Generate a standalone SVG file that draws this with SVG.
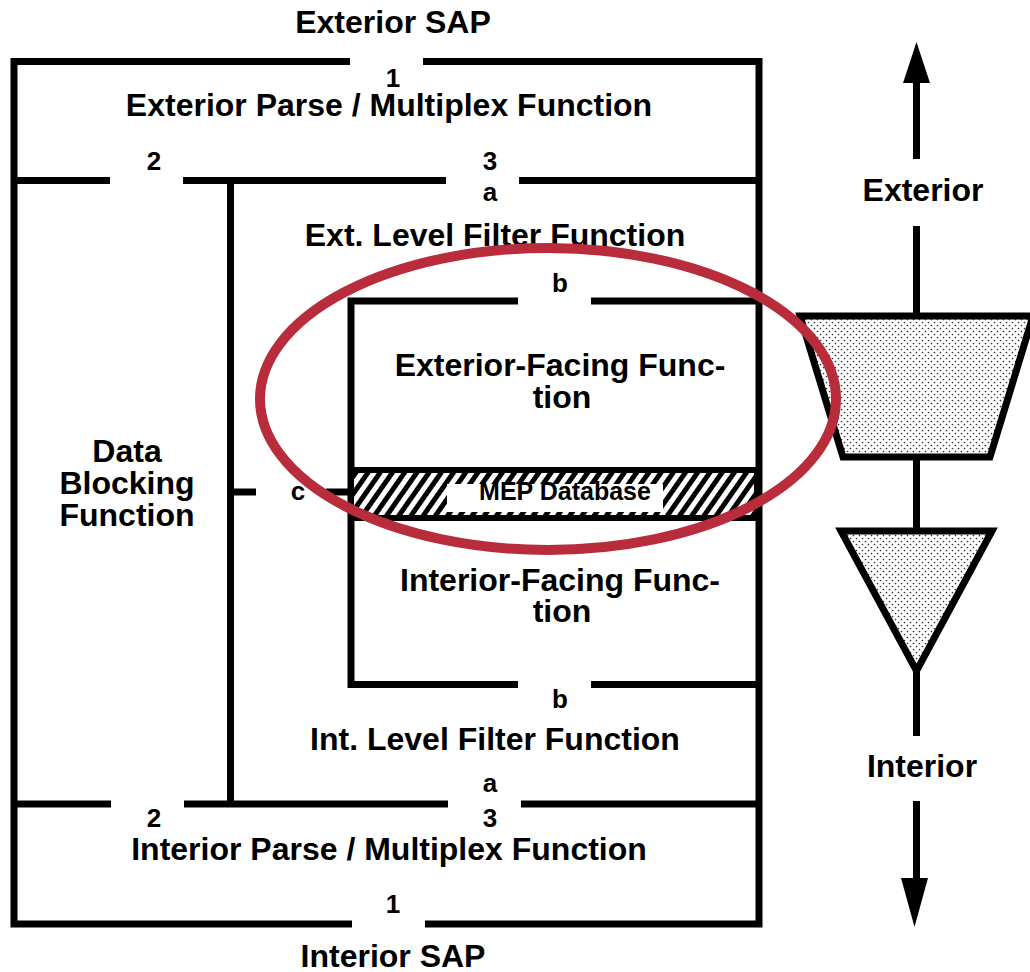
<svg xmlns="http://www.w3.org/2000/svg" width="1030" height="972" viewBox="0 0 1030 972">
<style>
.ln{fill:none;stroke:#000;stroke-width:7;stroke-linecap:butt;stroke-linejoin:miter}
.t{font-family:"Liberation Sans",Arial,sans-serif;font-weight:bold;font-size:32px;fill:#000;text-anchor:middle}
.s{font-family:"Liberation Sans",Arial,sans-serif;font-weight:bold;font-size:26px;fill:#000;text-anchor:middle}
.m{font-family:"Liberation Sans",Arial,sans-serif;font-weight:bold;font-size:25px;fill:#000;text-anchor:middle}
.dot{fill:url(#stip);stroke:#000;stroke-width:7;stroke-linejoin:miter}
</style>
<defs>
<pattern id="hatch" patternUnits="userSpaceOnUse" width="10" height="10" patternTransform="rotate(35)">
<rect width="10" height="10" fill="#fff"/>
<rect width="5" height="10" fill="#000"/>
</pattern>
<pattern id="stip" patternUnits="userSpaceOnUse" width="6" height="6">
<rect width="6" height="6" fill="#fff"/>
<circle cx="1.5" cy="1.5" r="0.85" fill="#333"/>
<circle cx="4.5" cy="4.5" r="0.85" fill="#333"/>
</pattern>
</defs>
<rect width="1030" height="972" fill="#fff"/>

<g id="outer-box">
<path class="ln" d="M350,61.5 H14 V924 H352"/>
<path class="ln" d="M423,61.5 H759 V924 H425"/>
<path class="ln" d="M11,180.5 H110 M183,180.5 H446 M519,180.5 H762"/>
<path class="ln" d="M11,804 H111 M184,804 H448 M521,804 H762"/>
</g>

<g id="exterior-parse">
<text class="t" x="393" y="33">Exterior SAP</text>
<text class="s" x="393" y="87">1</text>
<text class="t" x="389" y="116">Exterior Parse / Multiplex Function</text>
<text class="s" x="154" y="170">2</text>
<text class="s" x="490" y="170">3</text>
</g>

<g id="data-blocking">
<text class="t" x="127" y="462">Data</text>
<text class="t" x="127" y="494">Blocking</text>
<text class="t" x="127" y="526">Function</text>
</g>

<g id="connectors">
<path class="ln" d="M230.5,180.5 V804"/>
<path class="ln" d="M230.5,492 H256 M326,492 H351"/>
<line x1="916.5" y1="70" x2="916.5" y2="159" stroke="#000" stroke-width="7"/>
<line x1="916.5" y1="226" x2="916.5" y2="736" stroke="#000" stroke-width="7"/>
<line x1="916.5" y1="801" x2="916.5" y2="900" stroke="#000" stroke-width="7"/>
<polygon points="916.5,42 903,83 930,83" fill="#000"/>
<polygon points="914.5,927 901,878 928,878" fill="#000"/>
</g>

<g id="ext-level-filter">
<text class="s" x="490" y="201">a</text>
<text class="t" x="495" y="246">Ext. Level Filter Function</text>
<text class="s" x="560" y="292">b</text>
<text class="s" x="298" y="500">c</text>
</g>

<g id="inner-box">
<path class="ln" d="M518,301 H351 V684.5 H518"/>
<path class="ln" d="M591,301 H762 M591,684.5 H762"/>
</g>

<g id="exterior-facing">
<text class="t" x="560" y="376">Exterior-Facing Func-</text>
<text class="t" x="562" y="408">tion</text>
</g>

<g id="mep-database">
<rect x="351" y="470" width="406" height="48" fill="url(#hatch)" stroke="#000" stroke-width="6"/>
<rect x="447" y="484" width="216" height="28" fill="#fff"/>
<text class="m" x="565" y="500">MEP Database</text>
</g>

<g id="interior-facing">
<text class="t" x="560" y="591">Interior-Facing Func-</text>
<text class="t" x="562" y="622">tion</text>
</g>

<g id="int-level-filter">
<text class="s" x="560" y="708">b</text>
<text class="t" x="495" y="750">Int. Level Filter Function</text>
<text class="s" x="490" y="792">a</text>
</g>

<g id="interior-parse">
<text class="s" x="154" y="827">2</text>
<text class="s" x="490" y="827">3</text>
<text class="t" x="389" y="860">Interior Parse / Multiplex Function</text>
<text class="s" x="393" y="913">1</text>
<text class="t" x="393" y="967">Interior SAP</text>
</g>

<g id="trapezoid">
<polygon class="dot" points="800,316 1033,316 990,457 843,457"/>
</g>
<g id="triangle">
<polygon class="dot" points="841,531 992,531 916.5,671"/>
</g>
<g id="direction-labels">
<text class="t" x="923" y="201">Exterior</text>
<text class="t" x="922" y="777">Interior</text>
</g>

<g id="highlight">
<ellipse cx="548" cy="399" rx="288" ry="151" fill="none" stroke="#b82c3c" stroke-width="10"/>
</g>
</svg>
